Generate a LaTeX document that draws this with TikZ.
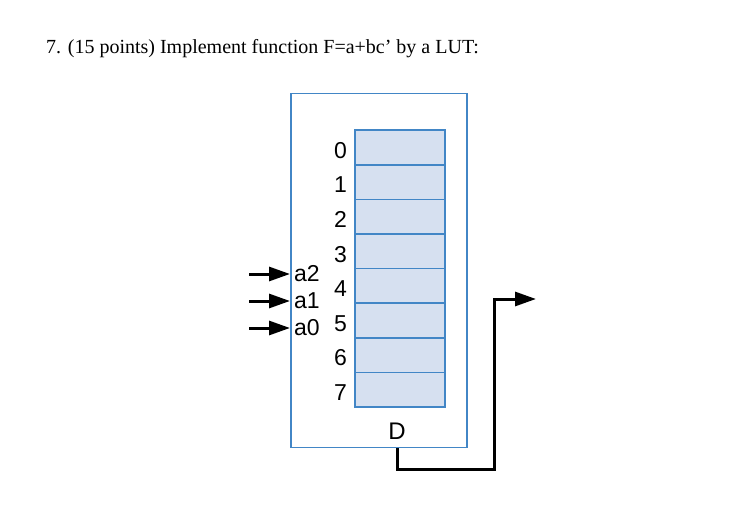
\documentclass[tikz,border=0pt]{standalone}
\usepackage{fontspec}
\setmainfont{Liberation Serif}
\setsansfont{Liberation Sans}
\usetikzlibrary{arrows.meta,positioning}

\definecolor{lutblue}{RGB}{66,134,198}
\definecolor{cellfill}{RGB}{214,224,240}

\newcommand*{\cellx}{354}
\newcommand*{\celly}{129.3}
\newcommand*{\cellh}{34.6}

\begin{document}
\begin{tikzpicture}
[
	x=1pt,y=-1pt,
	cell/.style={draw=lutblue,fill=cellfill,line width=1.6pt,minimum width=90pt,minimum height=34.6pt,inner sep=0pt,anchor=north west},
	addr/.style={font=\sffamily\fontsize{23}{23}\selectfont,anchor=east,inner sep=2pt},
	inlabel/.style={font=\sffamily\fontsize{23}{23}\selectfont,anchor=west,inner sep=2pt},
	wire/.style={line width=3pt},
	arrowhead/.style={-{Triangle[length=21pt,width=14pt]}}
]
	\useasboundingbox (0,0) rectangle (732,527);

	% title
	\node[anchor=base west,inner sep=0pt,font=\fontsize{20}{20}\selectfont] (title) at (46,54) {7. (15 points) Implement function F=a+bc’ by a LUT:};

	% lut box
	\node[draw=lutblue,line width=1.6pt,minimum width=176pt,minimum height=354pt,inner sep=0pt,anchor=north west] (lut) at (290,92.7) {};

	% cells
	\foreach \i in {0,...,7} {
		\node[cell] (c\i) at (\cellx,{\celly+\cellh*\i}) {};
		\node[addr,yshift=-3pt] (n\i) at ([xshift=-5pt]c\i.west) {\i};
	}

	% inputs
	\foreach \name/\y in {2/274,1/301,0/328} {
		\node[inlabel] (a\name) at (292,\y) {a\name};
		\coordinate (in\name) at (249,\y);
		\draw[wire,arrowhead] (in\name) -- (in\name -| lut.west);
	}

	% output
	\node[font=\sffamily\fontsize{24}{24}\selectfont] (D) at (397,431) {D};
	\coordinate (bend) at (494,469);
	\coordinate (out) at (536,299);
	\draw[wire,arrowhead] (D |- lut.south) |- (bend) |- (out);

\end{tikzpicture}
\end{document}
